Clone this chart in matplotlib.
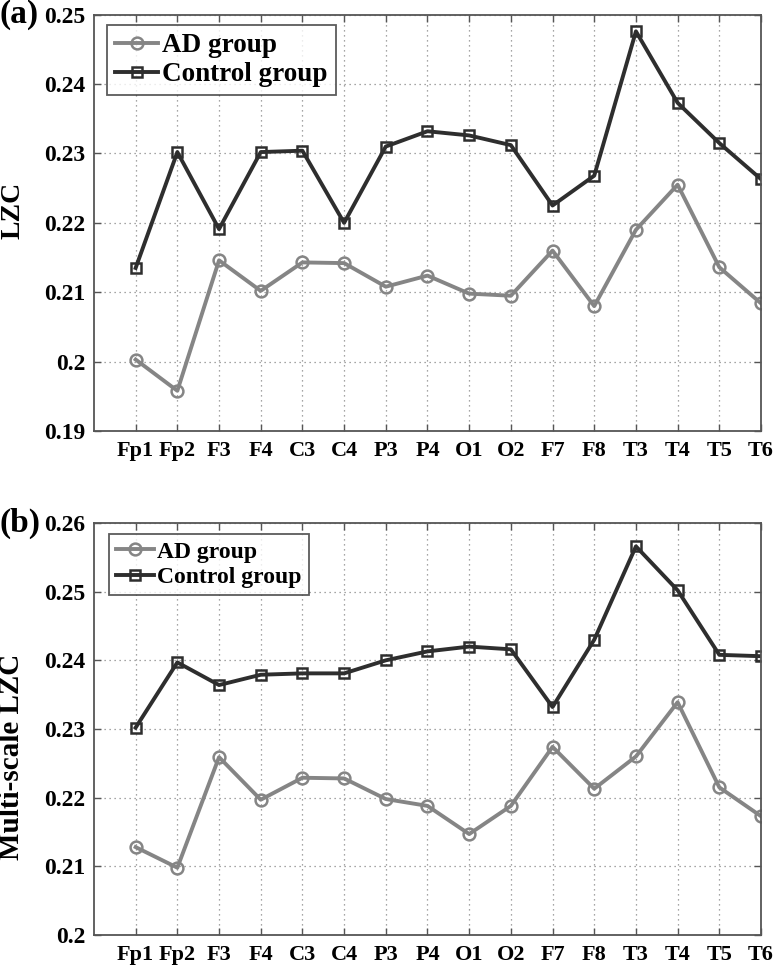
import matplotlib
matplotlib.use("Agg")
import matplotlib.pyplot as plt

channels = ["Fp1", "Fp2", "F3", "F4", "C3", "C4", "P3", "P4", "O1", "O2",
            "F7", "F8", "T3", "T4", "T5", "T6"]

lzc_ad = [0.2003, 0.1958, 0.2146, 0.2102, 0.2143, 0.2142, 0.2108, 0.2124,
          0.2098, 0.2095, 0.2160, 0.2080, 0.2190, 0.2255, 0.2136, 0.2084]
lzc_ctrl = [0.2135, 0.2302, 0.2191, 0.2302, 0.2304, 0.2200, 0.2310, 0.2332,
            0.2326, 0.2312, 0.2225, 0.2268, 0.2476, 0.2373, 0.2315, 0.2263]

ms_ad = [0.2128, 0.2098, 0.2259, 0.2197, 0.2229, 0.2228, 0.2198, 0.2188,
         0.2147, 0.2188, 0.2274, 0.2213, 0.2260, 0.2339, 0.2215, 0.2173]
ms_ctrl = [0.2302, 0.2397, 0.2364, 0.2379, 0.2381, 0.2381, 0.2400, 0.2413,
           0.2420, 0.2416, 0.2332, 0.2430, 0.2566, 0.2502, 0.2408, 0.2406]

lzc_yticks = [0.19, 0.20, 0.21, 0.22, 0.23, 0.24, 0.25]
lzc_yticklabels = ["0.19", "0.2", "0.21", "0.22", "0.23", "0.24", "0.25"]
ms_yticks = [0.20, 0.21, 0.22, 0.23, 0.24, 0.25, 0.26]
ms_yticklabels = ["0.2", "0.21", "0.22", "0.23", "0.24", "0.25", "0.26"]

plt.rcParams['font.family'] = ['Liberation Serif', 'DejaVu Serif']
plt.rcParams['font.weight'] = 'bold'

fig = plt.figure(figsize=(7.74, 9.66), dpi=100)
ax1 = fig.add_axes([0.1214, 0.5538, 0.8618, 0.4310])
ax2 = fig.add_axes([0.1214, 0.0321, 0.8618, 0.4265])

AD_COLOR = "#858585"
CT_COLOR = "#2e2e2e"

def draw(ax, ad, ct, yticks, yticklabels, ylabel, ylab_y, ylab_size, tag,
         legsize, leg_anchor):
    x = list(range(1, len(channels) + 1))
    ax.plot(x, ad, color=AD_COLOR, lw=2.8, marker='o', ms=8.5, mfc='none',
            mec=AD_COLOR, mew=1.8, label="AD group")
    ax.plot(x, ct, color=CT_COLOR, lw=2.8, marker='s', ms=7.5, mfc='none',
            mec=CT_COLOR, mew=1.8, label="Control group")
    ax.set_xlim(0, 16)
    ax.set_ylim(yticks[0], yticks[-1])
    ax.set_xticks(x)
    ax.set_xticklabels(channels, fontsize=16, fontweight='bold')
    ax.set_yticks(yticks)
    ax.set_yticklabels(yticklabels, fontsize=17, fontweight='bold')
    ax.grid(True, linestyle=(0, (1, 3)), color="#888888", lw=0.9)
    ax.tick_params(direction='in', top=True, right=True, length=5,
                   width=1, color="#555555")
    ax.tick_params(axis='x', pad=7)
    ax.tick_params(axis='y', pad=6)
    for s in ax.spines.values():
        s.set_color("#555555")
        s.set_linewidth(1.3)
    ax.set_ylabel(ylabel, fontsize=ylab_size, fontweight='bold')
    ax.yaxis.set_label_coords(-0.103, ylab_y)
    leg = ax.legend(loc='upper left', frameon=True,
                    fancybox=False, edgecolor="#333333", handlelength=1.6,
                    handletextpad=0.15, borderpad=0.3, labelspacing=0.15,
                    borderaxespad=0.0, bbox_to_anchor=leg_anchor,
                    prop={'size': legsize, 'weight': 'bold'})
    leg.get_frame().set_linewidth(1.3)
    ax.text(-0.141, 1.0, tag, transform=ax.transAxes, fontsize=24,
            fontweight='bold', ha='left', va='center')

draw(ax1, lzc_ad, lzc_ctrl, lzc_yticks, lzc_yticklabels, "LZC", 0.531, 20,
     "(a)", 19.5, (0.0195, 0.975))
draw(ax2, ms_ad, ms_ctrl, ms_yticks, ms_yticklabels, "Multi-scale LZC", 0.432,
     21, "(b)", 17, (0.0225, 0.973))

fig.savefig("out.png", dpi=100)
